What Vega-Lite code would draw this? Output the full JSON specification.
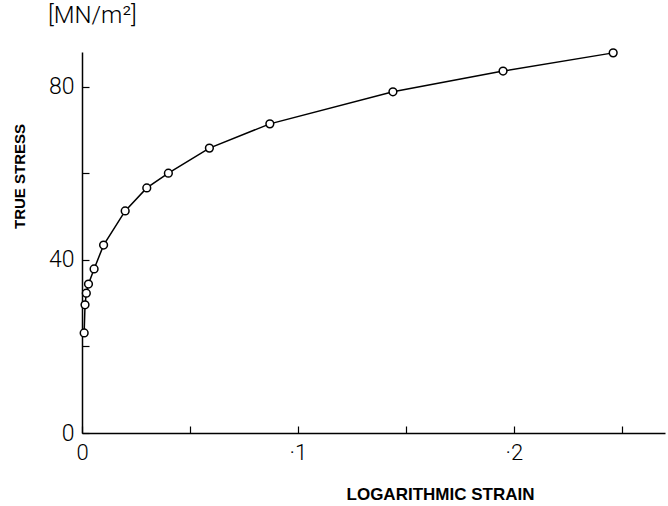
{
  "$schema": "https://vega.github.io/schema/vega-lite/v6.json",
  "width": 583,
  "height": 381,
  "autosize": {"type": "none"},
  "padding": {"left": 82, "top": 52, "right": 3, "bottom": 73},
  "background": "white",
  "config": {"view": {"stroke": null}},
  "title": {
    "text": "[MN/m²]",
    "frame": "group",
    "anchor": "start",
    "dx": -34,
    "offset": -6,
    "baseline": "bottom",
    "font": "Roboto",
    "fontSize": 24,
    "fontWeight": 300,
    "color": "black"
  },
  "data": {
    "values": [
      {"strain": 0.001, "stress": 23.1},
      {"strain": 0.0014, "stress": 29.6},
      {"strain": 0.002, "stress": 32.3},
      {"strain": 0.003, "stress": 34.4},
      {"strain": 0.0056, "stress": 37.9},
      {"strain": 0.01, "stress": 43.4},
      {"strain": 0.02, "stress": 51.3},
      {"strain": 0.03, "stress": 56.6},
      {"strain": 0.04, "stress": 60.0},
      {"strain": 0.059, "stress": 65.8},
      {"strain": 0.087, "stress": 71.4},
      {"strain": 0.144, "stress": 78.8},
      {"strain": 0.195, "stress": 83.6},
      {"strain": 0.246, "stress": 87.8}
    ]
  },
  "encoding": {
    "x": {
      "field": "strain",
      "type": "quantitative",
      "scale": {"domain": [0, 0.27], "nice": false},
      "axis": {
        "values": [0, 0.05, 0.1, 0.15, 0.2, 0.25],
        "labelExpr": "datum.value == 0 ? '0' : (abs(datum.value - 0.1) < 1e-6 ? '·1' : (abs(datum.value - 0.2) < 1e-6 ? '·2' : ''))",
        "grid": false,
        "domainColor": "black",
        "domainWidth": 1.5,
        "tickColor": "black",
        "tickWidth": 1.2,
        "tickSize": -7,
        "labelPadding": 16,
        "labelFlush": false,
        "labelOverlap": false,
        "labelFont": "Roboto",
        "labelFontSize": 22,
        "labelFontWeight": 300,
        "labelColor": "black",
        "title": "LOGARITHMIC STRAIN",
        "titleFont": "Liberation Sans",
        "titleFontSize": 17,
        "titleFontWeight": "bold",
        "titleColor": "black",
        "titleX": 358,
        "titleY": 61,
        "titleAlign": "center",
        "titleBaseline": "middle"
      }
    },
    "y": {
      "field": "stress",
      "type": "quantitative",
      "scale": {"domain": [0, 88], "nice": false},
      "axis": {
        "values": [0, 20, 40, 60, 80],
        "labelExpr": "datum.value % 40 == 0 ? datum.label : ''",
        "grid": false,
        "domainColor": "black",
        "domainWidth": 1.5,
        "tickColor": "black",
        "tickWidth": 1.2,
        "tickSize": -7,
        "labelPadding": 15,
        "labelOverlap": false,
        "labelFont": "Roboto",
        "labelFontSize": 23,
        "labelFontWeight": 300,
        "labelColor": "black",
        "title": "TRUE STRESS",
        "titleFont": "Liberation Sans",
        "titleFontSize": 15,
        "titleFontWeight": "bold",
        "titleColor": "black",
        "titleX": -63,
        "titleY": 124,
        "titleAngle": -90,
        "titleAlign": "center",
        "titleBaseline": "middle"
      }
    }
  },
  "layer": [
    {"mark": {"type": "line", "color": "black", "strokeWidth": 1.5}},
    {
      "mark": {
        "type": "point",
        "shape": "circle",
        "filled": false,
        "fill": "white",
        "fillOpacity": 1,
        "stroke": "black",
        "strokeWidth": 1.5,
        "opacity": 1,
        "size": 60
      }
    }
  ]
}
